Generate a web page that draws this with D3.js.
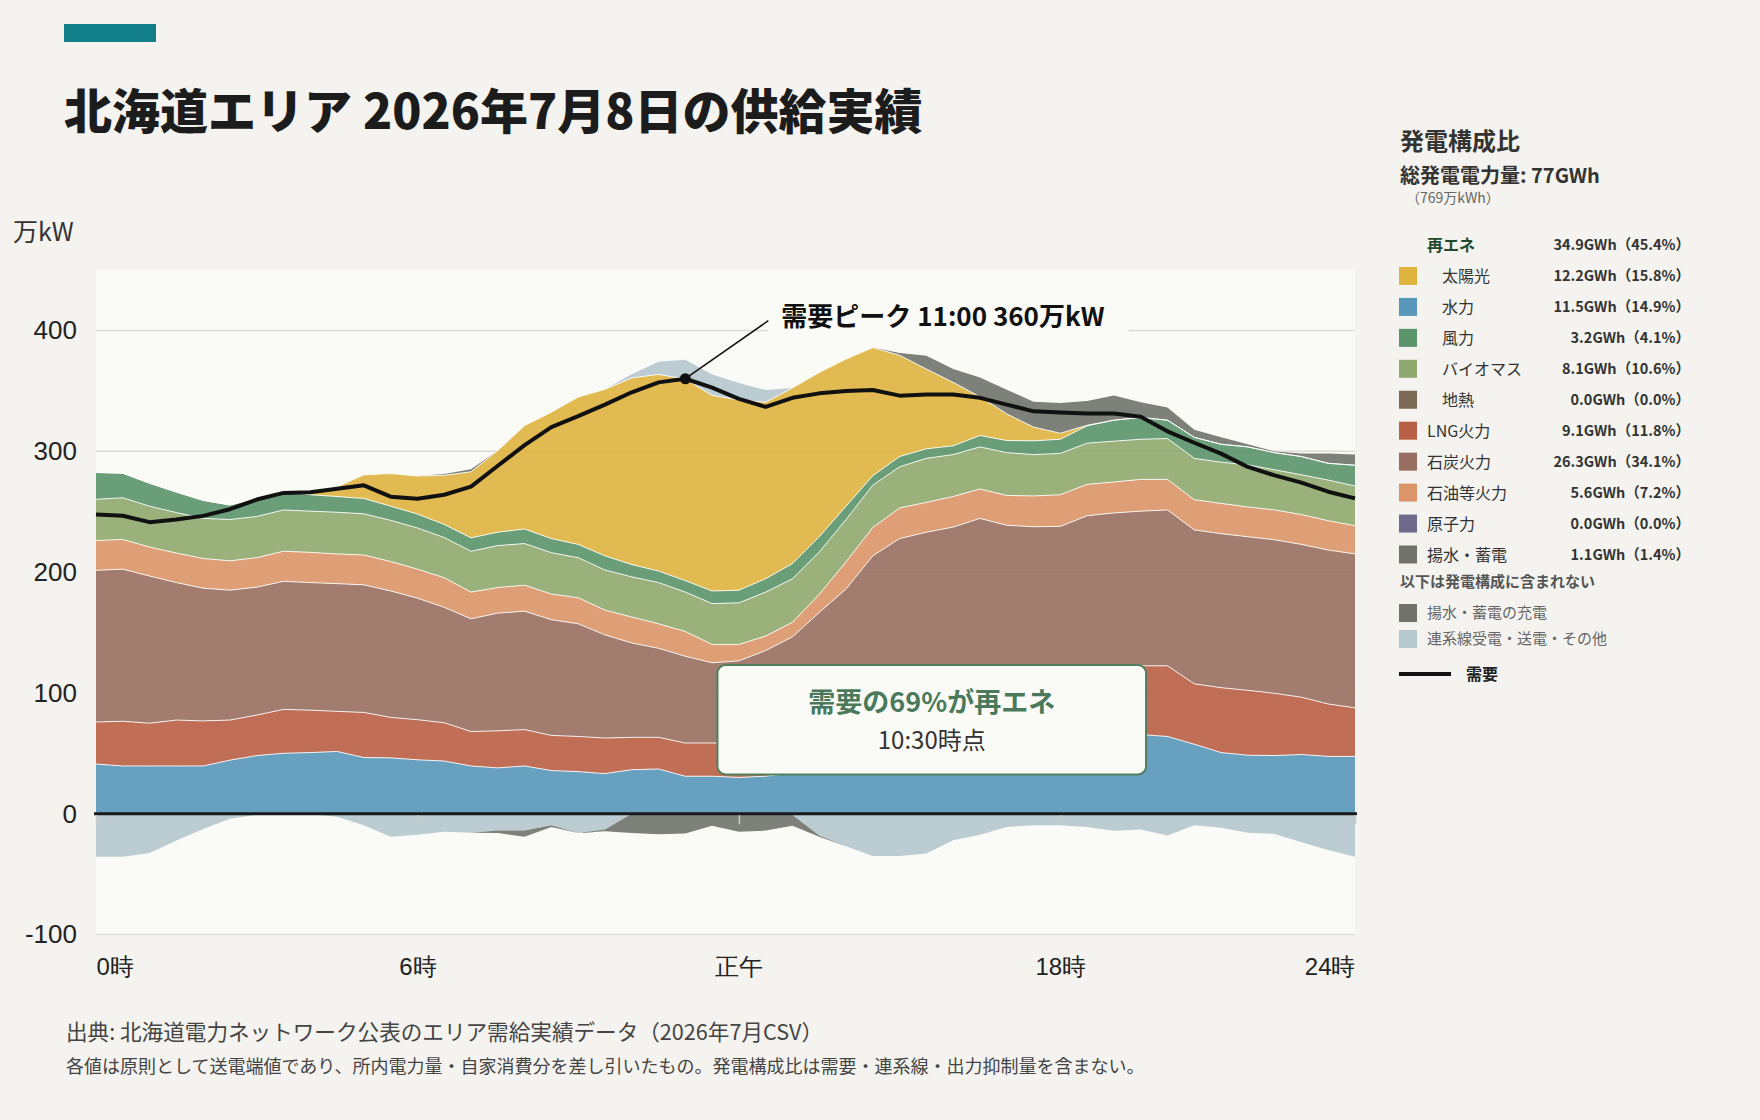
<!DOCTYPE html>
<html lang="ja">
<head>
<meta charset="utf-8">
<title>北海道エリア 2026年7月8日の供給実績</title>
<script src="https://cdn.jsdelivr.net/npm/d3@7"></script>
<style>
body {
  margin: 0;
  background-color: #F4F3EF;
}
svg {
  display: block;
  font-family: "Noto Sans CJK JP", "Noto Sans", sans-serif;
}
.axis path { display: none; }
.axis line { display: none; }
.axis text { fill: #222; }
.grid line { stroke: #dcdcd7; stroke-width: 1.5px; }
.xtick line { stroke: #c9cbc8; stroke-width: 1.5px; }
.xtick path { display: none; }
.edge { fill: none; stroke: #fff; stroke-width: 1px; stroke-opacity: 0.85; }
.demand { fill: none; stroke: #111; stroke-width: 4px; stroke-linejoin: round; }
</style>
</head>
<body>
<svg width="1760" height="1120"></svg>
<script>
// 30分値 (万kW), 0:00〜23:30
var hours = [0, 0.5, 1, 1.5, 2, 2.5, 3, 3.5, 4, 4.5, 5, 5.5, 6, 6.5, 7, 7.5, 8, 8.5, 9, 9.5,
  10, 10.5, 11, 11.5, 12, 12.5, 13, 13.5, 14, 14.5, 15, 15.5, 16, 16.5, 17, 17.5, 18, 18.5, 19, 19.5,
  20, 20.5, 21, 21.5, 22, 22.5, 23, 23.5];

var nuclear = [0, 0, 0, 0, 0, 0, 0, 0, 0, 0, 0, 0, 0, 0, 0, 0, 0, 0, 0, 0, 0, 0, 0, 0,
  0, 0, 0, 0, 0, 0, 0, 0, 0, 0, 0, 0, 0, 0, 0, 0, 0, 0, 0, 0, 0, 0, 0, 0];
var hydro = [41.1, 39.5, 39.5, 39.5, 39.5, 44.3, 48.1, 50.0, 50.6, 51.5, 46.5, 46.2, 44.6, 43.6, 39.5, 37.9, 39.5, 35.7, 34.8, 33.2,
  36.4, 37.0, 31.0, 31.0, 30.0, 31, 34, 39, 45, 51, 56, 60, 63, 65, 66, 67, 67, 67, 66, 65.5,
  63.9, 57.5, 50.6, 48.4, 48.1, 49.0, 47.4, 47.4];
var geothermal = [0, 0, 0, 0, 0, 0, 0, 0, 0, 0, 0, 0, 0, 0, 0, 0, 0, 0, 0, 0, 0, 0, 0, 0,
  0, 0, 0, 0, 0, 0, 0, 0, 0, 0, 0, 0, 0, 0, 0, 0, 0, 0, 0, 0, 0, 0, 0, 0];
var lng = [34.8, 37.0, 35.4, 38.0, 37.3, 33.2, 33.5, 36.3, 35.1, 33.2, 37.3, 33.5, 33.2, 31.7, 28.5, 30.7, 30.1, 29.1, 29.1, 29.4,
  26.8, 26.2, 27.5, 27.5, 28.0, 29, 30, 32, 34, 36, 38, 40, 42, 44, 46, 48, 50, 52, 55, 56.9,
  58.5, 50.0, 53.7, 53.7, 51.5, 47.4, 43.4, 40.2];
var coal = [125.5, 125.9, 121.8, 113.8, 109.8, 107.5, 105.9, 106.0, 105.6, 105.7, 105.6, 104.6, 100.6, 95.5, 93.3, 97.4, 98.0, 95.8, 93.3, 85.4,
  78.1, 73.7, 71.8, 66.4, 68.5, 75.0, 82.4, 95.6, 107.0, 126.4, 133.7, 133.0, 132.2, 135.4, 126.7, 122.5, 120.8, 127.6, 127.9, 128.0,
  129.0, 127.4, 127.5, 127.1, 127.1, 126.5, 127.4, 127.4];
var oil = [24.7, 24.6, 24.0, 24.4, 24.6, 24.3, 24.4, 24.9, 25.0, 24.6, 24.7, 24.4, 24.0, 24.5, 22.1, 21.2, 21.5, 21.2, 21.5, 20.5,
  21.5, 20.3, 20.5, 15.2, 13.6, 12.0, 12.0, 15.0, 22.5, 23.5, 25.3, 24.7, 25.3, 24.4, 24.7, 25.5, 26.2, 26.0, 25.6, 26.3,
  25.3, 25.0, 25.0, 24.7, 24.7, 24.7, 24.3, 23.4];
var biomass = [34.1, 34.5, 33.8, 33.5, 33.2, 34.2, 34.1, 34.2, 34.1, 34.5, 34.1, 34.1, 34.1, 33.3, 33.8, 34.7, 34.5, 34.2, 33.2, 33.2,
  33.2, 34.1, 32.6, 33.8, 34.4, 36.4, 36.0, 35.0, 35.0, 35.0, 34.1, 36.4, 34.7, 34.8, 35.4, 34.2, 34.2, 34.1, 33.8, 33.2,
  33.8, 34.2, 34.1, 34.8, 33.2, 32.9, 33.6, 32.9];
var wind = [22.2, 20.3, 19.0, 17.0, 14.9, 12.0, 14.9, 15.2, 13.6, 13.0, 12.7, 11.7, 11.5, 10.8, 11.1, 11.1, 12.0, 11.7, 11.0, 11.7,
  10.2, 9.5, 9.5, 10.4, 10.5, 11.1, 12.6, 12.6, 11.0, 7.9, 8.5, 7.9, 7.3, 9.4, 10.1, 11.4, 11.7, 14.3, 17.4, 18.0,
  15.2, 17.4, 14.9, 14.9, 14.2, 15.1, 13.9, 17.1];
var solar = [0, 0, 0, 0, 0, 0, 0, 0, 1.0, 8.0, 19.6, 27.0, 31.5, 40.7, 54.7, 67.6, 85.6, 104.6, 122.0, 137.8,
  154.5, 162.8, 166.9, 161.9, 157.5, 146.1, 145.4, 136.0, 121.8, 106.0, 83.8, 66.0, 52.5, 32.0, 22.0, 11.4, 5.0, 0.5, 0, 0,
  0, 0, 0, 0, 0, 0, 0, 0];
var pumpGen = [0, 0, 0, 0, 0, 0, 0, 0, 0, 0, 0, 0, 0, 1.0, 2.0, 0, 0, 0, 0, 0,
  0, 0, 0, 0, 0, 0, 0, 0, 0, 0, 2.0, 11.0, 11.0, 16.0, 20.0, 21.0, 25.0, 20.0, 20.5, 12.7,
  10.4, 6.3, 5.7, 2.2, 1.0, 2.6, 8.2, 8.8];
// 連系線: 正=受電, 負=送電
var interconnect = [-35.7, -35.7, -32.6, -22.1, -12.6, -4.1, -0.9, -0.5, -0.5, -2.5, -9.5, -19.0, -17.4, -15.0, -15.8, -14.0, -14.0, -9.5, -16.0, -13.0,
  3.0, 10.5, 16.0, 17.4, 14.0, 10.0, -1.0, -18.0, -27.0, -35.0, -35.0, -33.0, -22.0, -17.4, -11.0, -9.5, -9.5, -11.0, -14.2, -13.0,
  -18.0, -9.5, -11.7, -15.8, -16.8, -23.7, -30.0, -35.7];
var pumpCharge = [0, 0, 0, 0, 0, 0, 0, 0, 0, 0, 0, 0, 0, 0, 0, -2.0, -5.0, -1.5, 0, -1.5,
  -16.0, -17.0, -16.5, -10.0, -15.0, -14.0, -9.0, -1.0, 0, 0, 0, 0, 0, 0, 0, 0, 0, 0, 0, 0,
  0, 0, 0, 0, 0, 0, 0, 0];
var demand = [247.6, 246.6, 241.3, 243.5, 246.5, 252.0, 260.0, 265.5, 266.0, 269.0, 271.8, 262.4, 260.7, 264.0, 270.7, 288.0, 305.0, 320.0, 329.0, 338.6,
  348.8, 357.0, 360.0, 352.6, 343.3, 336.7, 344.2, 347.9, 349.8, 350.7, 346.0, 347.0, 347.0, 344.2, 338.6, 333.0, 332.1, 331.2, 331.2, 328.6,
  316.5, 307.0, 298.0, 287.0, 280.0, 274.0, 266.5, 261.0];

var yTicks = [-100, 0, 100, 200, 300, 400];
var xTicks = [0, 6, 12, 18, 23.5];
var xTickLabels = ["0時", "6時", "正午", "18時", "24時"];

var legendKeys = ["solar", "hydro", "wind", "biomass", "geothermal", "lng", "coal", "oil", "nuclear", "pumpGen"];
var legendNames = ["太陽光", "水力", "風力", "バイオマス", "地熱", "LNG火力", "石炭火力", "石油等火力", "原子力", "揚水・蓄電"];
var legendValues = ["12.2GWh（15.8%）", "11.5GWh（14.9%）", "3.2GWh（4.1%）", "8.1GWh（10.6%）", "0.0GWh（0.0%）",
  "9.1GWh（11.8%）", "26.3GWh（34.1%）", "5.6GWh（7.2%）", "0.0GWh（0.0%）", "1.1GWh（1.4%）"];

var posKeys = ["nuclear", "hydro", "geothermal", "lng", "coal", "oil", "biomass", "wind", "solar", "pumpGen", "importPos"];
var negKeys = ["exportNeg", "pumpCharge"];
var colors = {
  nuclear: "#6E6A8C", hydro: "#5897BA", geothermal: "#7D6A56", lng: "#B95F45", coal: "#976E60",
  oil: "#DC9568", biomass: "#8FA96F", wind: "#5A946B", solar: "#DEB43F", pumpGen: "#6F736C",
  importPos: "#B5C7CF", exportNeg: "#B5C7CF", interconnect: "#B5C7CF", pumpCharge: "#6F736C"
};
var renewable = {solar: 1, hydro: 1, wind: 1, biomass: 1, geothermal: 1};

var svg = d3.select("svg"),
    margin = {top: 270, right: 405, bottom: 185.5, left: 96},
    width = +svg.attr("width") - margin.left - margin.right,
    height = +svg.attr("height") - margin.top - margin.bottom;

// 見出し
svg.append("rect").attr("x", 64).attr("y", 24).attr("width", 92).attr("height", 18).attr("fill", "#137F88");
svg.append("text").attr("x", 64).attr("y", 129)
    .attr("font-size", 48).attr("font-weight", 900).attr("fill", "#1c1c1c")
    .text("北海道エリア 2026年7月8日の供給実績");
svg.append("text").attr("x", 13).attr("y", 241)
    .attr("font-size", 25).attr("fill", "#333").text("万kW");

var x = d3.scaleLinear().domain([0, 23.5]).range([0, width]);
var y = d3.scaleLinear().domain([-100, 450]).range([height, 0]);

var g = svg.append("g")
    .attr("transform", "translate(" + margin.left + "," + margin.top + ")");

g.append("rect").attr("width", width).attr("height", height).attr("fill", "#FAFAF6");

g.append("g").attr("class", "grid")
  .selectAll("line")
  .data(yTicks)
  .enter().append("line")
    .attr("x1", 0).attr("x2", width)
    .attr("y1", function(d) { return y(d); })
    .attr("y2", function(d) { return y(d); });

var rows = hours.map(function(h, i) {
  return {
    hour: h, nuclear: nuclear[i], hydro: hydro[i], geothermal: geothermal[i], lng: lng[i],
    coal: coal[i], oil: oil[i], biomass: biomass[i], wind: wind[i], solar: solar[i],
    pumpGen: pumpGen[i],
    importPos: Math.max(0, interconnect[i]), exportNeg: Math.min(0, interconnect[i]),
    pumpCharge: pumpCharge[i]
  };
});

// 供給は0から上へ、送電・充電は0から下へ積む
var layers = d3.stack().keys(posKeys)(rows).concat(d3.stack().keys(negKeys)(rows));

var area = d3.area()
    .x(function(d) { return x(d.data.hour); })
    .y0(function(d) { return y(d[0]); })
    .y1(function(d) { return y(d[1]); });

var topLine = d3.line()
    .x(function(d) { return x(d.data.hour); })
    .y(function(d) { return y(d[1]); });

g.selectAll(".layer")
    .data(layers)
  .enter().append("path")
    .attr("class", "layer")
    .attr("d", area)
    .attr("fill", function(d) { return colors[d.key]; })
    .attr("fill-opacity", 0.9);

g.selectAll(".edge")
    .data(layers.filter(function(d) { return ["hydro", "lng", "coal", "oil", "biomass", "wind", "solar"].indexOf(d.key) >= 0; }))
  .enter().append("path")
    .attr("class", "edge")
    .attr("d", topLine);

// 0ライン
g.append("line")
    .attr("x1", -2).attr("x2", width + 2)
    .attr("y1", y(0)).attr("y2", y(0))
    .attr("stroke", "#1a1a1a").attr("stroke-width", 3);

g.append("g")
    .attr("class", "xtick")
    .attr("transform", "translate(0," + (y(0) + 1.5) + ")")
    .call(d3.axisBottom(x).tickValues(xTicks).tickSize(9).tickFormat(""));

// 需要
g.append("path")
    .datum(demand)
    .attr("class", "demand")
    .attr("d", d3.line()
      .x(function(d, i) { return x(hours[i]); })
      .y(function(d) { return y(d); }));

// 軸ラベル
g.append("g")
    .attr("class", "axis")
    .call(d3.axisLeft(y).tickValues(yTicks).tickSize(0).tickPadding(19)
      .tickFormat(function(d) { return String(d); }))
    .selectAll("text").attr("font-family", null).attr("font-size", 26);

var xAxis = g.append("g")
    .attr("class", "axis")
    .attr("transform", "translate(0," + height + ")")
    .call(d3.axisBottom(x).tickValues(xTicks).tickSize(0).tickPadding(23)
      .tickFormat(function(d, i) { return xTickLabels[i]; }));
xAxis.selectAll("text")
    .attr("font-family", null).attr("font-size", 24)
    .attr("text-anchor", function(d, i) { return i === 0 ? "start" : (i === xTicks.length - 1 ? "end" : "middle"); });

// 需要ピーク
var peak = d3.maxIndex(demand);
var px = x(hours[peak]), py = y(demand[peak]);
g.append("rect")
    .attr("x", px + 82).attr("y", py - 80)
    .attr("width", 361).attr("height", 40)
    .attr("fill", "#FAFAF6");
g.append("line")
    .attr("x1", px).attr("y1", py)
    .attr("x2", px + 83).attr("y2", py - 58)
    .attr("stroke", "#111").attr("stroke-width", 1.5);
g.append("circle").attr("cx", px).attr("cy", py).attr("r", 5.5).attr("fill", "#111");
g.append("text")
    .attr("x", px + 96).attr("y", py - 53)
    .attr("font-size", 26).attr("font-weight", 700).attr("fill", "#111")
    .text("需要ピーク 11:00 360万kW");

// 再エネ比率の注記
var bx = x(11.6), by = y(123);
var bw = x(19.6) - bx, bh = y(32.5) - by;
g.append("rect")
    .attr("x", bx).attr("y", by).attr("width", bw).attr("height", bh)
    .attr("rx", 8)
    .attr("fill", "#FAFAF6").attr("stroke", "#4F7F5F").attr("stroke-width", 2);
g.append("text")
    .attr("x", bx + bw / 2).attr("y", by + 47)
    .attr("text-anchor", "middle")
    .attr("font-size", 27).attr("font-weight", 700).attr("fill", "#4A7A5B")
    .text("需要の69%が再エネ");
g.append("text")
    .attr("x", bx + bw / 2).attr("y", by + 84)
    .attr("text-anchor", "middle")
    .attr("font-size", 24).attr("fill", "#333")
    .text("10:30時点");

// 凡例
var lg = svg.append("g");
lg.append("text").attr("x", 1400).attr("y", 150)
    .attr("font-size", 24).attr("font-weight", 700).attr("fill", "#333").text("発電構成比");
lg.append("text").attr("x", 1400).attr("y", 183)
    .attr("font-size", 20).attr("font-weight", 700).attr("fill", "#333").text("総発電電力量: 77GWh");
lg.append("text").attr("x", 1406).attr("y", 203)
    .attr("font-size", 14).attr("fill", "#666").text("（769万kWh）");

var rowY = function(k) { return 245 + 30.95 * k; };
lg.append("text").attr("x", 1427).attr("y", rowY(0) + 6)
    .attr("font-size", 16).attr("font-weight", 700).attr("fill", "#234A2E").text("再エネ");
lg.append("text").attr("x", 1690).attr("y", rowY(0) + 5).attr("text-anchor", "end")
    .attr("font-size", 14.5).attr("font-weight", 700).attr("fill", "#333").text("34.9GWh（45.4%）");

var item = lg.selectAll(".item")
    .data(legendKeys)
  .enter().append("g")
    .attr("class", "item")
    .attr("transform", function(d, i) { return "translate(0," + rowY(i + 1) + ")"; });
item.append("rect")
    .attr("x", 1399).attr("y", -9).attr("width", 18).attr("height", 18)
    .attr("fill", function(d) { return colors[d]; });
item.append("text")
    .attr("x", function(d) { return renewable[d] ? 1442 : 1427; })
    .attr("y", 6)
    .attr("font-size", 16).attr("fill", "#333")
    .text(function(d, i) { return legendNames[i]; });
item.append("text")
    .attr("x", 1690).attr("y", 5).attr("text-anchor", "end")
    .attr("font-size", 14.5).attr("font-weight", 700).attr("fill", "#333")
    .text(function(d, i) { return legendValues[i]; });

lg.append("text").attr("x", 1400).attr("y", 587)
    .attr("font-size", 15).attr("font-weight", 700).attr("fill", "#555").text("以下は発電構成に含まれない");

var extra = [["pumpCharge", "揚水・蓄電の充電", 613], ["interconnect", "連系線受電・送電・その他", 639]];
extra.forEach(function(e) {
  lg.append("rect").attr("x", 1399).attr("y", e[2] - 9).attr("width", 18).attr("height", 18).attr("fill", colors[e[0]]);
  lg.append("text").attr("x", 1427).attr("y", e[2] + 5)
      .attr("font-size", 15).attr("fill", "#666").text(e[1]);
});
lg.append("line").attr("x1", 1399).attr("x2", 1451).attr("y1", 674).attr("y2", 674)
    .attr("stroke", "#111").attr("stroke-width", 4);
lg.append("text").attr("x", 1466).attr("y", 680)
    .attr("font-size", 16).attr("font-weight", 700).attr("fill", "#222").text("需要");

// 出典
svg.append("text").attr("x", 66).attr("y", 1040)
    .attr("font-size", 21.6).attr("fill", "#444")
    .text("出典: 北海道電力ネットワーク公表のエリア需給実績データ（2026年7月CSV）");
svg.append("text").attr("x", 66).attr("y", 1073)
    .attr("font-size", 18).attr("fill", "#444")
    .text("各値は原則として送電端値であり、所内電力量・自家消費分を差し引いたもの。発電構成比は需要・連系線・出力抑制量を含まない。");
</script>
</body>
</html>
